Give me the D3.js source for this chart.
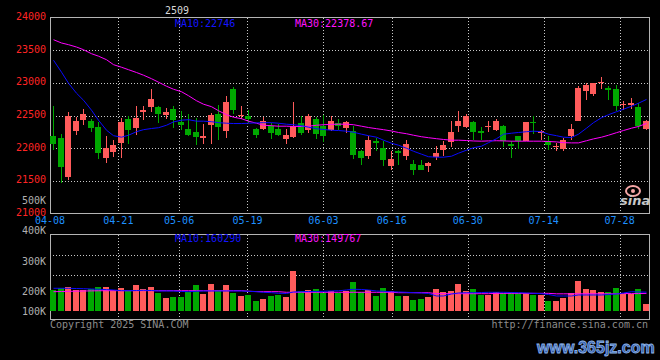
<!DOCTYPE html>
<html>
<head>
<meta charset="utf-8">
<script src="https://cdn.jsdelivr.net/npm/d3@7/dist/d3.min.js"></script>
<style>
html, body { margin: 0; padding: 0; background: #000; }
svg { display: block; }
text { font-family: "DejaVu Sans Mono", monospace; font-size: 10px; }
</style>
</head>
<body>
<svg id="chart" width="660" height="360"></svg>
<script>
var title = '2509';

var dates = [
    '04-08','04-09','04-10','04-11','04-14','04-15','04-16','04-17','04-18','04-21',
    '04-22','04-23','04-24','04-25','04-28','04-29','04-30','05-06','05-07','05-08',
    '05-09','05-12','05-13','05-14','05-15','05-16','05-19','05-20','05-21','05-22',
    '05-23','05-26','05-27','05-28','05-29','05-30','06-03','06-04','06-05','06-06',
    '06-09','06-10','06-11','06-12','06-13','06-16','06-17','06-18','06-19','06-20',
    '06-23','06-24','06-25','06-26','06-27','06-30','07-01','07-02','07-03','07-04',
    '07-07','07-08','07-09','07-10','07-11','07-14','07-15','07-16','07-17','07-18',
    '07-21','07-22','07-23','07-24','07-25','07-28','07-29','07-30','07-31','08-01'
];

var opens = [
    22191,22160,21566,22268,22437,22421,22324,21843,21945,22085,
    22452,22314,22549,22626,22636,22514,22596,22396,22299,22252,
    22150,22350,22529,22258,22898,22488,22488,22295,22301,22340,
    22290,22140,22178,22390,22285,22452,22334,22283,22386,22304,
    22258,21950,21884,22104,22002,21730,21961,21874,21761,21746,
    21730,21863,21966,22094,22334,22324,22396,22258,22334,22283,
    22345,22068,22181,22114,22396,22232,22104,22022,21986,22181,
    22411,22872,22836,23000,22923,22908,22657,22657,22636,22293
];
var highs = [
    22642,22222,22555,22478,22606,22447,22401,22191,22130,22463,
    22488,22642,22652,22913,22640,22621,22641,22575,22529,22462,
    22375,22539,22667,22795,22933,22652,22580,22315,22478,22386,
    22377,22290,22700,22495,22525,22478,22514,22488,22447,22421,
    22334,21965,22191,22155,22104,21950,21976,22130,21822,21822,
    21781,22037,22104,22411,22575,22529,22421,22324,22411,22447,
    22360,22104,22181,22396,22488,22283,22191,22078,22155,22375,
    22959,22990,23000,23092,22949,22974,22729,22770,22693,22437
];
var lows = [
    21966,21464,21515,22196,22350,22242,21833,21766,21858,21857,
    22068,22206,22437,22549,22386,22447,22316,22283,22181,22053,
    22068,22068,22130,22155,22529,22440,22386,22150,22275,22145,
    22183,22065,22155,22200,22235,22145,22089,22258,22273,22232,
    21838,21746,21833,21950,21730,21659,21746,21812,21592,21659,
    21628,21812,21874,22017,22252,22309,22130,22130,22242,22268,
    22017,21848,21986,22114,22222,22119,21966,21950,21950,22119,
    22411,22744,22805,22908,22744,22565,22590,22600,22293,22278
];
var closes = [
    22068,21705,22488,22411,22524,22314,21920,21996,22053,22402,
    22273,22468,22590,22759,22519,22549,22428,22350,22206,22165,
    22191,22503,22324,22713,22580,22503,22452,22204,22413,22233,
    22200,22197,22340,22228,22495,22222,22181,22421,22334,22406,
    21899,21843,22130,22084,21812,21838,21925,22068,21669,21669,
    21776,21930,22053,22252,22421,22498,22252,22232,22345,22421,
    22104,22038,22114,22396,22386,22258,22053,22038,22130,22293,
    22928,22964,22990,23015,22887,22642,22677,22693,22334,22411
];
var volumes = [
    178500,193000,206500,178500,178500,184500,206500,206500,178500,198000,
    172500,221000,187000,206500,155500,113000,121500,121500,164000,221000,
    144500,229500,178500,221000,155500,127500,136000,85000,102000,130000,
    136000,116500,340000,170000,178500,187000,155500,170000,155500,174000,
    249000,164000,178500,130000,195500,170000,130000,130000,93500,102000,
    121500,187000,164000,170000,229500,170000,187000,136000,136000,164000,
    150500,159000,150500,155500,136000,136000,85000,85000,108000,150500,
    255000,187000,178500,159000,164000,195500,144500,142000,187000,59500
];

var ma10 = [
    23346,23163,22994,22841,22734,22581,22428,22275,22191,22168,
    22198,22252,22283,22301,22313,22351,22402,22428,22436,22413,
    22413,22405,22390,22382,22377,22377,22382,22387,22390,22390,
    22382,22367,22359,22344,22321,22298,22286,22275,22270,22260,
    22244,22214,22191,22168,22122,22076,22045,21999,21953,21908,
    21869,21862,21862,21877,21923,21969,22007,22030,22084,22145,
    22214,22229,22240,22252,22260,22252,22214,22191,22168,22163,
    22214,22306,22390,22466,22512,22558,22596,22642,22688,22746
];
var ma30 = [
    23660,23610,23584,23548,23507,23446,23408,23354,23278,23239,
    23201,23158,23117,23063,23010,22948,22902,22864,22803,22726,
    22673,22635,22573,22512,22474,22451,22413,22382,22351,22344,
    22336,22336,22332,22332,22336,22351,22359,22364,22367,22367,
    22359,22336,22316,22298,22283,22263,22240,22221,22198,22175,
    22160,22145,22133,22122,22122,22117,22110,22107,22111,22114,
    22111,22107,22107,22107,22107,22107,22102,22096,22084,22081,
    22081,22114,22142,22168,22198,22237,22270,22306,22332,22378.67
];
var volMa10 = [
    193000,193000,193000,191000,189500,187000,184500,182000,178500,172500,
    172500,174000,176000,174000,170000,170000,170000,166000,164000,167500,
    170000,170000,170000,170000,170000,170000,167500,164000,159000,155500,
    150500,149000,161500,164000,166000,166000,167500,170000,171500,178500,
    184500,183000,178500,170000,167500,164000,161500,159000,155500,153000,
    149000,127500,127500,144500,153000,155500,155500,157000,159000,159000,
    159000,157000,155500,153000,150500,147000,140000,127500,127500,127500,
    136000,136000,136000,136000,140000,144500,153000,164000,161500,160290
];
var volMa30 = [
    164000,165500,167000,168500,170000,171000,172000,172500,172500,172500,
    172500,172500,172500,172500,172500,172500,172500,172500,172500,172500,
    172500,172500,172500,172500,172500,172500,168000,165000,164000,164000,
    164000,159000,159000,159000,159000,159000,159000,159000,159000,159000,
    159000,159000,159000,159000,159000,159000,155500,155500,155500,155500,
    155500,147000,147000,147000,147000,147000,147000,147000,147000,150000,
    150000,150000,150000,150000,150000,150000,150000,146000,146000,146000,
    146000,146000,146000,146000,146000,146000,148000,148000,148000,149767
];

var priceTicks = [21000, 21500, 22000, 22500, 23000, 23500, 24000];
var volTicks = [100000, 200000, 300000, 400000, 500000];
var dateTicks = ['04-08','04-21','05-06','05-19','06-03','06-16','06-30','07-14','07-28'];

var UP = '#ff5b5b', DOWN = '#00a800';
var GRID = '#c8c8c8', FRAME = '#b4b4b4';

var svg = d3.select('#chart');
svg.append('rect').attr('width', 660).attr('height', 360).attr('fill', '#000');

var n = dates.length;
var left = 50, right = 649.5;
var top1 = 17.5, bottom1 = 213.5;
var top2 = 234.5, bottom2 = 319.5;

// candles use one slot per day, date grid uses n-1 intervals
var x = d3.scaleBand().domain(d3.range(n)).range([50, 650]);
var xTick = d3.scaleLinear().domain([0, n - 1]).range([50, 650]);
var y = d3.scaleLinear().domain([21000, 24000]).range([bottom1, top1]);
var yv = d3.scaleLinear().domain([0, 650000]).range([311, top2]);
var yvLabel = d3.scaleLinear().domain([100000, 500000]).range([322, 200]);
var vGrid = d3.scaleLinear().domain([0, 4]).range([top2, 316]);

var bw = Math.round(x.bandwidth() * 0.8);
function cx(i) { return Math.round(x(i)) + bw / 2 + 0.5; }
function isUp(i) { return closes[i] >= opens[i]; }

function dotted(g, x1, y1, x2, y2) {
    g.append('line')
        .attr('x1', x1).attr('y1', y1).attr('x2', x2).attr('y2', y2)
        .attr('stroke', GRID)
        .attr('stroke-dasharray', '1,2')
        .attr('shape-rendering', 'crispEdges');
}

var grid = svg.append('g').attr('id', 'grid');
priceTicks.slice(1, -1).forEach(function (t) {
    var yy = Math.round(y(t)) + 0.5;
    dotted(grid, left, yy, right, yy);
});
[1, 2].forEach(function (k) {
    var yy = Math.round(vGrid(k)) + 0.5;
    dotted(grid, left, yy, right, yy);
});
dateTicks.slice(1).forEach(function (d) {
    var xx = Math.round(xTick(dates.indexOf(d))) + 0.5;
    dotted(grid, xx, top1, xx, bottom1);
    dotted(grid, xx, top2, xx, bottom2);
});

// frames
[[top1, bottom1], [top2, bottom2]].forEach(function (p) {
    svg.append('rect')
        .attr('x', left).attr('y', p[0])
        .attr('width', right - left).attr('height', p[1] - p[0])
        .attr('fill', 'none')
        .attr('stroke', FRAME)
        .attr('shape-rendering', 'crispEdges');
});

// candles
var candles = svg.append('g').attr('id', 'candles');
d3.range(n).forEach(function (i) {
    var c = isUp(i) ? UP : DOWN;
    candles.append('line')
        .attr('x1', cx(i)).attr('x2', cx(i))
        .attr('y1', y(highs[i])).attr('y2', y(lows[i]))
        .attr('stroke', c)
        .attr('shape-rendering', 'crispEdges');
    var y0 = y(Math.max(opens[i], closes[i]));
    var y1 = y(Math.min(opens[i], closes[i]));
    candles.append('rect')
        .attr('x', Math.round(x(i)))
        .attr('y', y0)
        .attr('width', bw)
        .attr('height', Math.max(1, y1 - y0))
        .attr('fill', c)
        .attr('shape-rendering', 'crispEdges');
});

// volume bars
var bars = svg.append('g').attr('id', 'volume');
bars.selectAll('rect').data(volumes).enter().append('rect')
    .attr('x', function (d, i) { return Math.round(x(i)); })
    .attr('y', function (d) { return yv(d); })
    .attr('width', bw)
    .attr('height', function (d) { return yv(0) - yv(d); })
    .attr('fill', function (d, i) { return isUp(i) ? UP : DOWN; })
    .attr('shape-rendering', 'crispEdges');

// moving averages
function maLine(values, scale, color) {
    var line = d3.line()
        .x(function (d, i) { return cx(i); })
        .y(function (d) { return scale(d); });
    svg.append('path')
        .attr('d', line(values))
        .attr('fill', 'none')
        .attr('stroke', color)
        .attr('stroke-width', 1);
}
maLine(ma30, y, '#ff00ff');
maLine(ma10, y, '#0a0aff');
maLine(volMa30, yv, '#ff00ff');
maLine(volMa10, yv, '#0a0aff');

// axis labels
var labels = svg.append('g').attr('id', 'labels');
priceTicks.forEach(function (t) {
    labels.append('text')
        .attr('x', 46).attr('y', y(t) + 2.5)
        .attr('text-anchor', 'end')
        .attr('fill', '#ff2424')
        .text(t);
});
volTicks.forEach(function (t) {
    labels.append('text')
        .attr('x', 46).attr('y', Math.min(yvLabel(t), 311) + 3.6)
        .attr('text-anchor', 'end')
        .attr('fill', '#b0b0b0')
        .text(t / 1000 + 'K');
});
dateTicks.forEach(function (d) {
    labels.append('text')
        .attr('x', xTick(dates.indexOf(d)))
        .attr('y', 224)
        .attr('text-anchor', 'middle')
        .attr('fill', '#1e90ff')
        .text(d);
});

function legend(yy, a, b) {
    labels.append('text').attr('x', 175).attr('y', yy).attr('fill', '#1414ff').text('MA10:' + a);
    labels.append('text').attr('x', 295).attr('y', yy).attr('fill', '#ff14ff').text('MA30:' + b);
}
legend(27, ma10[n - 1], ma30[n - 1].toFixed(2));
legend(242, volMa10[n - 1], volMa30[n - 1]);

labels.append('text')
    .attr('x', 165).attr('y', 13.5)
    .attr('fill', '#d8d8d8')
    .attr('textLength', 24)
    .text(title);

labels.append('text')
    .attr('x', 50).attr('y', 328)
    .attr('fill', '#8c8c8c')
    .text('Copyright 2025 SINA.COM');
labels.append('text')
    .attr('x', 648).attr('y', 328)
    .attr('text-anchor', 'end')
    .attr('fill', '#8c8c8c')
    .text('http://finance.sina.com.cn');

// sina logo in the corner of the price panel
var logo = svg.append('g').attr('transform', 'translate(620,185)');
logo.append('ellipse')
    .attr('cx', 13).attr('cy', 6).attr('rx', 7).attr('ry', 5)
    .attr('fill', 'none').attr('stroke', '#f4a6a6').attr('stroke-width', 2);
logo.append('circle').attr('cx', 13).attr('cy', 6).attr('r', 2).attr('fill', '#f4a6a6');
logo.append('text')
    .attr('x', 0).attr('y', 20)
    .attr('fill', '#c8c8c8')
    .attr('font-style', 'italic')
    .attr('font-weight', 'bold')
    .style('font-family', 'DejaVu Sans')
    .style('font-size', '13px')
    .text('sina');

// site watermark
svg.append('text')
    .attr('x', 537).attr('y', 353)
    .attr('fill', '#2f5aa8')
    .attr('stroke', '#8fb4e8')
    .attr('stroke-width', 0.8)
    .attr('font-weight', 'bold')
    .style('font-family', '"Liberation Sans", Arial, sans-serif')
    .style('font-size', '16px')
    .text('www.365jz.com');
</script>
</body>
</html>
